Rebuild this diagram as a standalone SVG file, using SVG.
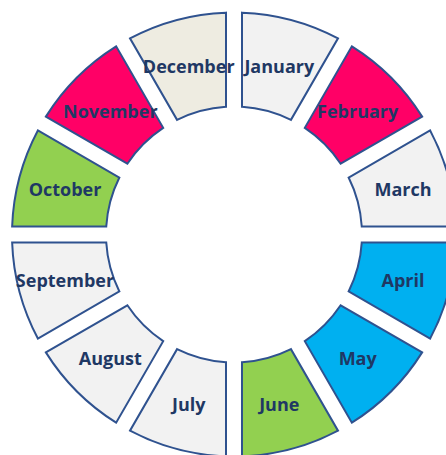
<svg xmlns="http://www.w3.org/2000/svg" xmlns:xlink="http://www.w3.org/1999/xlink" width="446" height="455" viewBox="0 0 446 455">
<style>
.seg{stroke:#2F528F;stroke-width:2;stroke-linejoin:miter}
.grey{fill:#F2F2F2}
.beige{fill:#EEECE1}
.pink{fill:#FF0066}
.blue{fill:#00B0F0}
.green{fill:#92D050}
.lbl{font-family:"Open Sans","Liberation Sans",sans-serif;font-weight:bold;font-size:18px;fill:#1F3864;text-anchor:middle}
</style>
<defs>
<path id="seg" d="M 8,-221.856 A 222 222 0 0 1 104.0,-196.133 L 56.947,-114.635 A 128 128 0 0 0 8,-127.75 Z"/>
</defs>
<rect width="446" height="455" fill="#FFFFFF"/>
<g id="connectors"></g>
<g id="january"><use xlink:href="#seg" class="seg grey" transform="translate(234,234.5) rotate(0)"/><text class="lbl" x="279.3" y="72.5">January</text></g>
<g id="february"><use xlink:href="#seg" class="seg pink" transform="translate(234,234.5) rotate(30)"/><text class="lbl" x="357.7" y="117.8">February</text></g>
<g id="march"><use xlink:href="#seg" class="seg grey" transform="translate(234,234.5) rotate(60)"/><text class="lbl" x="403" y="196.2">March</text></g>
<g id="april"><use xlink:href="#seg" class="seg blue" transform="translate(234,234.5) rotate(90)"/><text class="lbl" x="403" y="286.8">April</text></g>
<g id="may"><use xlink:href="#seg" class="seg blue" transform="translate(234,234.5) rotate(120)"/><text class="lbl" x="357.7" y="365.2">May</text></g>
<g id="june"><use xlink:href="#seg" class="seg green" transform="translate(234,234.5) rotate(150)"/><text class="lbl" x="279.3" y="410.5">June</text></g>
<g id="july"><use xlink:href="#seg" class="seg grey" transform="translate(234,234.5) rotate(180)"/><text class="lbl" x="188.7" y="410.5">July</text></g>
<g id="august"><use xlink:href="#seg" class="seg grey" transform="translate(234,234.5) rotate(210)"/><text class="lbl" x="110.3" y="365.2">August</text></g>
<g id="september"><use xlink:href="#seg" class="seg grey" transform="translate(234,234.5) rotate(240)"/><text class="lbl" x="65" y="286.8">September</text></g>
<g id="october"><use xlink:href="#seg" class="seg green" transform="translate(234,234.5) rotate(270)"/><text class="lbl" x="65" y="196.2">October</text></g>
<g id="november"><use xlink:href="#seg" class="seg pink" transform="translate(234,234.5) rotate(300)"/><text class="lbl" x="110.3" y="117.8">November</text></g>
<g id="december"><use xlink:href="#seg" class="seg beige" transform="translate(234,234.5) rotate(330)"/><text class="lbl" x="188.7" y="72.5">December</text></g>
</svg>
